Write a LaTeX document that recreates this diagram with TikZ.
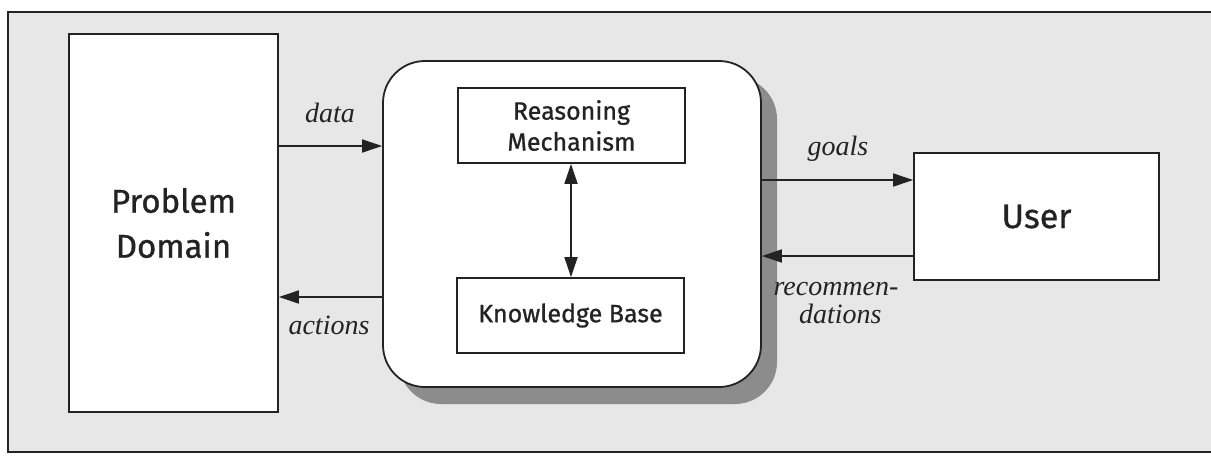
\documentclass[tikz,border=0pt]{standalone}
\usepackage{fontspec}
\setmainfont{Liberation Serif}
\setsansfont{Fira Sans}[UprightFeatures={FakeBold=0.9}]
\usetikzlibrary{arrows.meta}
\definecolor{paper}{RGB}{231,231,231}
\definecolor{ink}{RGB}{35,35,35}
\definecolor{shade}{RGB}{140,140,140}
\tikzset{
  wbox/.style={draw=ink, line width=1.8pt, fill=white, rectangle, inner sep=0pt, font=\sffamily, text=ink, align=center},
  arr/.style={draw=ink, line width=1.8pt, -{Triangle[length=20pt,width=13pt]}},
  darr/.style={draw=ink, line width=1.8pt, {Triangle[length=20pt,width=13pt]}-{Triangle[length=20pt,width=13pt]}},
  lbl/.style={font=\fontsize{28}{28}\selectfont\itshape, text=ink, inner sep=0pt, align=center},
}
\begin{document}
\begin{tikzpicture}[x=1pt,y=-1pt]
\useasboundingbox (0,0) rectangle (1211,458);
\fill[white] (0,0) rectangle (1211,458);
\draw[draw=ink, line width=1.6pt, fill=paper] (8,12) rectangle (1240,452);
% shadow of core
\path[fill=shade, rounded corners=42pt] (399,77) rectangle (777,404);
\node[wbox, rounded corners=42pt, minimum width=378pt, minimum height=326pt] (core) at (572,224) {};
\node[wbox, minimum width=209pt, minimum height=378pt, font=\sffamily\fontsize{33}{45}\selectfont] (pd) at (173.5,223) {Problem\\Domain};
\node[wbox, minimum width=227pt, minimum height=75pt, font=\sffamily\fontsize{25}{31}\selectfont] (rm) at (571.5,125.5) {Reasoning\\Mechanism};
\node[wbox, minimum width=227pt, minimum height=75pt, font=\sffamily\fontsize{25}{31}\selectfont] (kb) at (570.5,315.5) {Knowledge Base};
\node[wbox, minimum width=245pt, minimum height=127pt, font=\sffamily\fontsize{34}{40}\selectfont] (user) at (1036.5,216.5) {User};
% connectors
\draw[arr] (pd.east |- 0,146) -- (core.west |- 0,146);
\draw[arr] (core.west |- 0,297) -- (pd.east |- 0,297);
\draw[arr] (core.east |- 0,180) -- (user.west |- 0,180);
\draw[arr] (user.west |- 0,256) -- (core.east |- 0,256);
\draw[darr] (rm.south -| 571,0) -- (kb.north -| 571,0);
% labels
\node[lbl, anchor=base] (ldata) at (330,122) {data};
\node[lbl, anchor=base] (lact) at (329,334) {actions};
\node[lbl, anchor=base] (lgoals) at (838,155) {goals};
\node[lbl, anchor=base, align=right] (lrec) at (836,323) {recommen-\\dations\hspace*{17pt}};
\end{tikzpicture}
\end{document}
